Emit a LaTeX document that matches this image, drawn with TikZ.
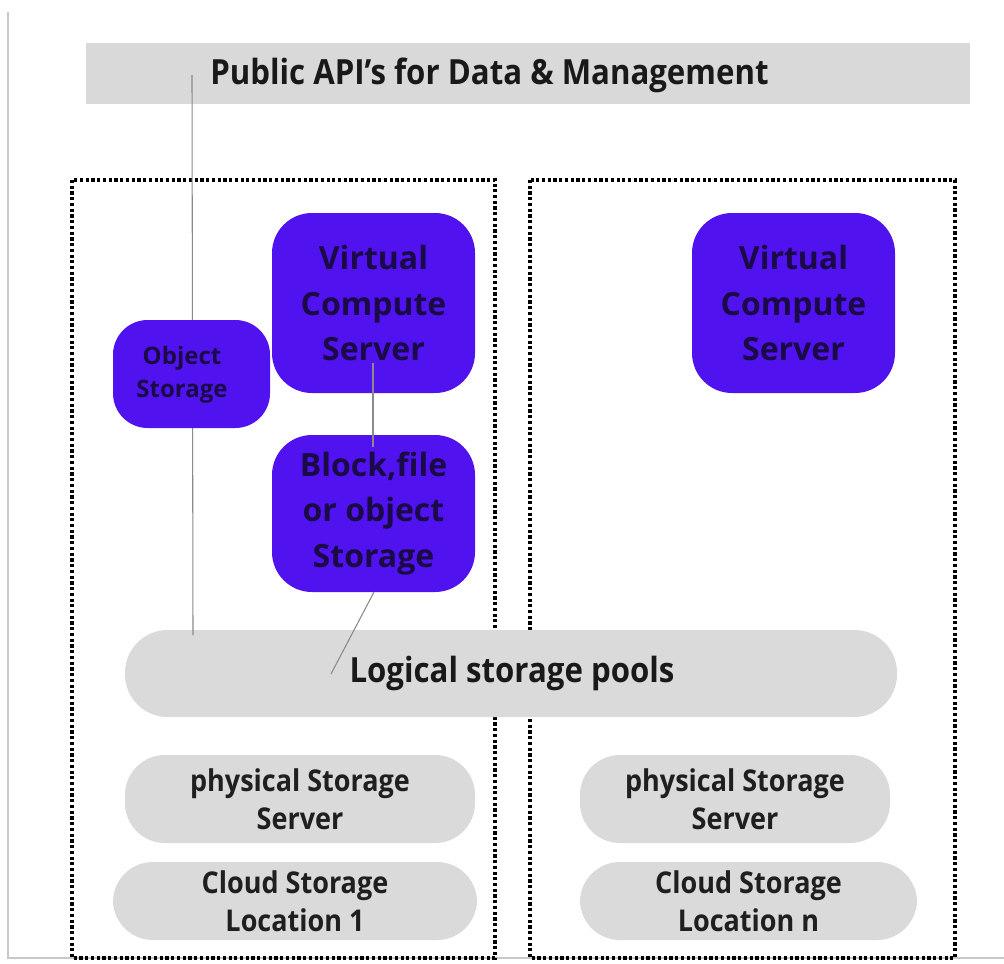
\documentclass[tikz,border=0pt]{standalone}
\usepackage{fontspec}
\setmainfont{Open Sans}
\newfontfamily\condfont{Open Sans}[FakeStretch=0.9]
\usetikzlibrary{positioning}
\definecolor{barGray}{HTML}{D9D9D9}
\definecolor{pillGray}{HTML}{DADADA}
\definecolor{vivid}{HTML}{5112F0}
\definecolor{navy}{HTML}{1A0A45}
\definecolor{wire}{HTML}{8A8A8A}
\definecolor{frame}{HTML}{C8C8C8}
\tikzset{
  dotbox/.style={draw=black, line width=2.5pt, dash pattern=on 2.4pt off 1.9pt},
  pill/.style={fill=pillGray, rounded corners=30pt, align=center, text=black!88,
    font=\condfont\bfseries\fontsize{22.5}{28.5}\selectfont, inner sep=0pt},
  vbox/.style={fill=vivid, rounded corners=30pt, align=center, text=navy,
    font=\bfseries\fontsize{24}{34}\selectfont, inner sep=0pt},
  wireline/.style={draw=wire, line width=0.8pt},
}
\begin{document}
\begin{tikzpicture}[x=0.75pt, y=-0.75pt]
\useasboundingbox (0,0) rectangle (1004,964);
\fill[white] (0,0) rectangle (1004,964);
% page frame
\draw[frame, line width=1.2pt] (8,12) -- (8,958) -- (1004,958);

% top API bar
\node[fill=barGray, minimum width=663pt, minimum height=45.75pt, inner sep=0pt] (api) at (528,73.5) {};
\node[anchor=west, text=black!90, font=\condfont\bfseries\fontsize{26}{30}\selectfont, inner sep=0pt] (apitext) at (210,75) {Public API’s for Data \& Management};

% dotted site boundaries
\draw[dotbox] (72,180) rectangle (495,958);
\draw[dotbox] (530,180) rectangle (955,958);

% logical pool
\node[pill, rounded corners=32pt, minimum width=579pt, minimum height=65.25pt] (pool) at (511,673.5) {};
\node[text=black!90, font=\condfont\bfseries\fontsize{26}{30}\selectfont, inner sep=0pt] (pooltext) at (512,673) {Logical storage pools};

% line from API bar down to pool
\coordinate (apiTap) at (192,75);
\coordinate (poolTap) at (193,635);
\draw[wireline] (apiTap) -- (poolTap);

% physical layer
\node[pill, minimum width=262.5pt, minimum height=66pt] (phys1) at (300,799) {physical Storage\\Server};
\node[pill, minimum width=273pt, minimum height=58.5pt] (cloud1) at (295,901) {Cloud Storage\\Location 1};
\node[pill, minimum width=232.5pt, minimum height=66pt] (phys2) at (735,799) {physical Storage\\Server};
\node[pill, minimum width=252.75pt, minimum height=58.5pt] (cloud2) at (748.5,901) {Cloud Storage\\Location n};

% purple service blocks
\node[vbox, rounded corners=26pt, minimum width=117.75pt, minimum height=81pt] (obj) at (191.5,374) {};
\node[text=navy, align=center, font=\bfseries\fontsize{18}{25}\selectfont, inner sep=0pt] (objtext) at (182,375) {Object\\Storage};
\node[vbox, minimum width=152.25pt, minimum height=135pt] (vcs1) at (373.5,303) {Virtual\\Compute\\Server};
\node[vbox, minimum width=152.25pt, minimum height=117.75pt] (blk) at (373.5,513.5) {Block,file\\or object\\Storage};
\node[vbox, minimum width=152.25pt, minimum height=135pt] (vcs2) at (793.5,303) {Virtual\\Compute\\Server};

% links between compute, storage and pool
\coordinate (vcsTap) at (373,363);
\coordinate (blkTap) at (373,447);
\draw[wireline] (vcsTap) -- (blkTap);
\coordinate (blkFoot) at (374,592);
\coordinate (poolFoot) at (331,674);
\draw[wireline] (blkFoot) -- (poolFoot);
\end{tikzpicture}
\end{document}
